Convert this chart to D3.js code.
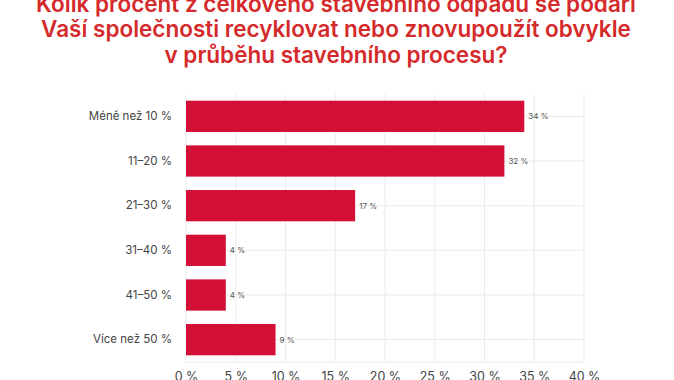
<!DOCTYPE html>
<html><head><meta charset="utf-8">
<script src="https://cdn.jsdelivr.net/npm/d3@7"></script>
<style>body{margin:0;background:#fff;}svg{display:block;}</style>
</head><body>
<svg id="c" width="674" height="380"></svg>
<script>
const titleLines = ["Kolik procent z celkového stavebního odpadu se podaří","Vaší společnosti recyklovat nebo znovupoužít obvykle","v průběhu stavebního procesu?"];
const categories = ["Méně než 10 %","11–20 %","21–30 %","31–40 %","41–50 %","Více než 50 %"];
const values = [34,32,17,4,4,9];
const xTicks = [0,5,10,15,20,25,30,35,40];

const svg = d3.select("#c");
const font = "Inter, 'DejaVu Sans', sans-serif";
const x = d3.scaleLinear().domain([0,40]).range([186, 584]);
const y = d3.scaleBand().domain(categories).range([94, 362]).paddingInner(0.3).paddingOuter(0.15);

// title
svg.append("g").selectAll("text").data(titleLines).join("text")
  .attr("x", 336).attr("y", (d,i)=> 11.5 + i*25.5)
  .attr("text-anchor","middle").attr("font-family",font).attr("font-size",22.5).attr("font-weight",600)
  .attr("fill","#d42a2b").text(d=>d);

// grid
const g = svg.append("g");
g.selectAll("line.v").data(xTicks).join("line").attr("class","v")
  .attr("x1",d=>x(d)).attr("x2",d=>x(d)).attr("y1",94).attr("y2",362)
  .attr("stroke","#ebebeb").attr("stroke-width",1);
g.selectAll("line.h").data(categories).join("line").attr("class","h")
  .attr("x1",x(0)).attr("x2",x(40)).attr("y1",d=>y(d)+y.bandwidth()/2).attr("y2",d=>y(d)+y.bandwidth()/2)
  .attr("stroke","#ebebeb").attr("stroke-width",1);
g.append("line").attr("x1",x(0)).attr("x2",x(40)).attr("y1",362).attr("y2",362).attr("stroke","#ebebeb");

// bars
svg.append("g").selectAll("rect").data(values).join("rect")
  .attr("x",x(0)).attr("y",(d,i)=>y(categories[i])).attr("width",d=>x(d)-x(0)).attr("height",y.bandwidth())
  .attr("fill","#d30f35");

// value labels
svg.append("g").selectAll("text").data(values).join("text")
  .attr("x",d=>x(d)+4).attr("y",(d,i)=>y(categories[i])+y.bandwidth()/2+3)
  .attr("font-family",font).attr("font-size",8).attr("fill","#555").text(d=>d+" %");

// y axis labels
const ya = svg.append("g").attr("transform",`translate(${x(0)-14},0)`)
  .call(d3.axisLeft(y).tickSize(0).tickPadding(0));
ya.select(".domain").remove();
ya.selectAll("text").attr("font-family",font).attr("font-size",11.5).attr("fill","#444");

// x axis labels
const xa = svg.append("g").attr("transform",`translate(0,362)`)
  .call(d3.axisBottom(x).tickValues(xTicks).tickSize(0).tickPadding(10).tickFormat(d=>d+" %"));
xa.select(".domain").remove();
xa.selectAll("text").attr("font-family",font).attr("font-size",12.5).attr("fill","#444");
</script>
</body></html>
